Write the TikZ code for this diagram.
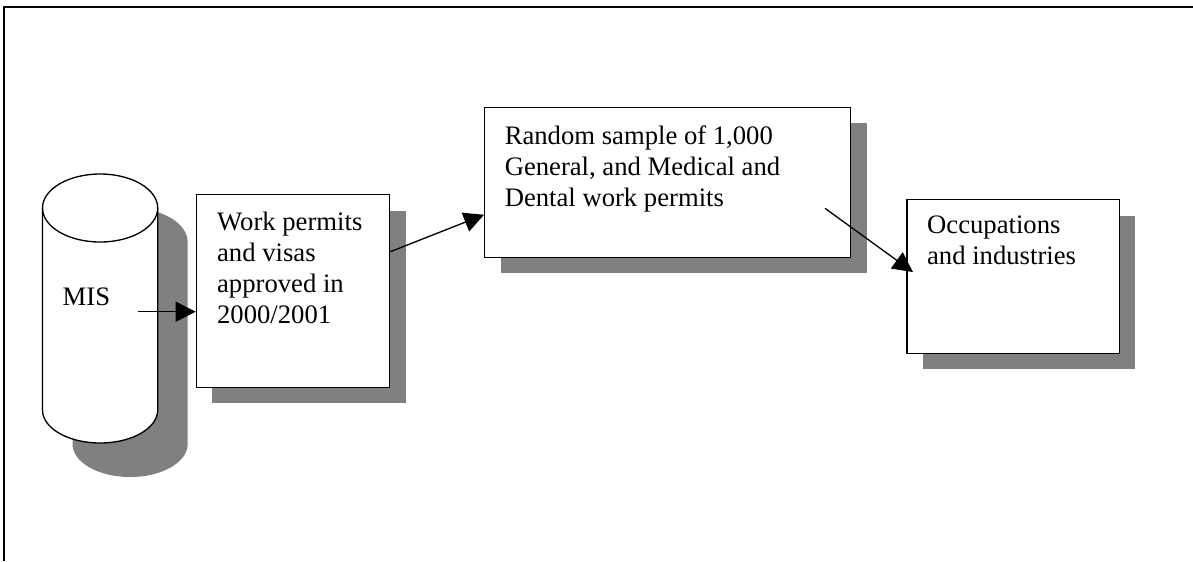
\documentclass[tikz,border=0pt]{standalone}
\usepackage{fontspec}
\setmainfont{Liberation Serif}
\usetikzlibrary{arrows.meta,positioning,shadows}
\definecolor{shadowgray}{RGB}{128,128,128}

\tikzset{
  flowbox/.style={draw, fill=white, line width=0.6pt, inner sep=0pt, anchor=north west,
    drop shadow={shadow xshift=7.2pt, shadow yshift=-7.2pt, fill=shadowgray, opacity=1}},
  boxtext/.style={anchor=north west, inner sep=0pt, align=left, font=\fontsize{12}{13.9}\selectfont},
  flowarrow/.style={line width=0.6pt, -{Triangle[length=9pt, width=9pt]}}
}

\begin{document}
\begin{tikzpicture}[x=0.45pt, y=-0.45pt]
    \useasboundingbox (0,0) rectangle (1193,561);
    % frame
    \draw[line width=0.8pt] (4.3,561) -- (4.3,7) -- (1193,7);
    % MIS drum
    \draw[line width=0.6pt, fill=white, drop shadow={shadow xshift=13.5pt, shadow yshift=-15.3pt, fill=shadowgray, opacity=1}]
        (42.5,208) -- (42.5,410) arc[start angle=180, end angle=0, x radius=57.6, y radius=33]
        -- (157.7,208) arc[start angle=0, end angle=-180, x radius=57.6, y radius=34] -- cycle;
    \draw[line width=0.6pt] (42.5,208) arc[start angle=180, end angle=0, x radius=57.6, y radius=34];
    \node[anchor=base west, inner sep=0pt, font=\fontsize{12}{13.9}\selectfont] (mis) at (62.3,305) {MIS};
    \coordinate (mis tail) at (138.3,311.7);
    % boxes
    \node[flowbox, minimum width=87pt, minimum height=86.7pt] (work) at (195.7,194) {};
    \node[flowbox, minimum width=164.7pt, minimum height=67.5pt] (sample) at (484,106.7) {};
    \node[flowbox, minimum width=95.6pt, minimum height=69.2pt] (occ) at (906.3,199) {};
    \node[boxtext] (work text) at (216.7,212) {Work permits\\and visas\\approved in\\2000/2001};
    \node[boxtext] (sample text) at (504.3,125) {Random sample of 1,000\\General, and Medical and\\Dental work permits};
    \node[boxtext] (occ text) at (926.7,215) {Occupations\\and industries};
    \coordinate (sample turn) at (825,208.3);
    % arrows
    \draw[flowarrow] (mis tail) -- (mis tail -| work.west);
    \draw[flowarrow] (work.22) -- (sample.190);
    \draw[flowarrow, shorten >=-3.7pt] (sample turn) -- (occ.175);
\end{tikzpicture}
\end{document}
